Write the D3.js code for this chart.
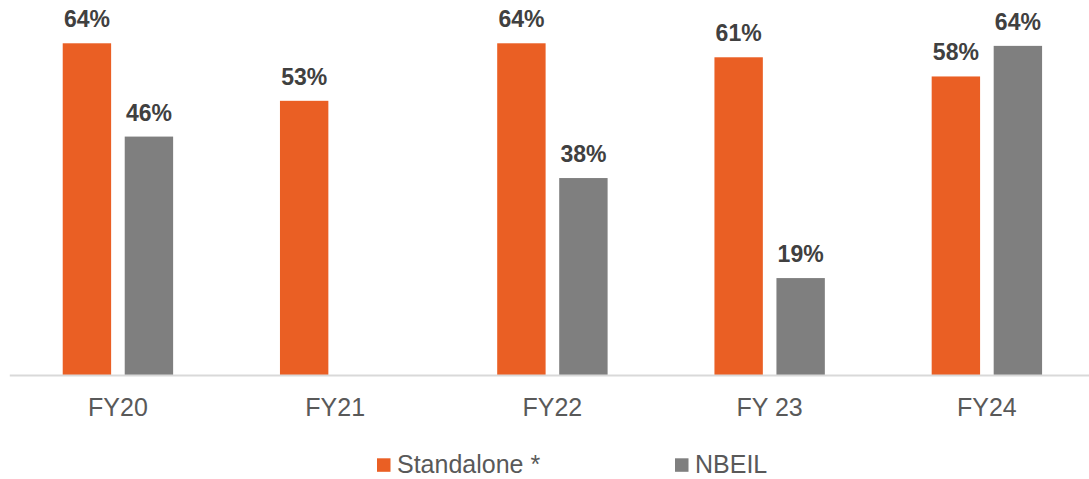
<!DOCTYPE html>
<html>
<head>
<meta charset="utf-8">
<script src="https://cdn.jsdelivr.net/npm/d3@7"></script>
<style>
  html, body { margin: 0; padding: 0; background: #fff; }
  svg { display: block; font-family: "Liberation Sans", Arial, sans-serif; }
</style>
</head>
<body>
<svg id="chart" width="1089" height="479"></svg>
<script>
const categories = ["FY20", "FY21", "FY22", "FY 23", "FY24"];
const standalone = [64, 52.9, 64, 61.3, 57.6];
const nbeil = [46, null, 38, 18.7, 63.5];
const standaloneLabels = ["64%", "53%", "64%", "61%", "58%"];
const nbeilLabels = ["46%", "", "38%", "19%", "64%"];
const seriesNames = ["Standalone *", "NBEIL"];
const colors = ["#EA5F24", "#7F7F7F"];

const svg = d3.select("#chart");
const baseline = 375;

const x = d3.scaleBand().domain(categories).range([9.3, 1095.5]).paddingInner(0).paddingOuter(0);
const y = d3.scaleLinear().domain([0, 70]).range([baseline, baseline - 70 * 5.183]);

const barW = 48.4, gap = 13.6;
const groupW = barW * 2 + gap;

const series = [
  { name: seriesNames[0], values: standalone, labels: standaloneLabels, color: colors[0], idx: 0 },
  { name: seriesNames[1], values: nbeil, labels: nbeilLabels, color: colors[1], idx: 1 }
];

function barX(cat, idx) {
  const c = x(cat) + x.bandwidth() / 2;
  return c - groupW / 2 + idx * (barW + gap);
}

series.forEach(s => {
  const data = categories.map((c, i) => ({ cat: c, v: s.values[i], label: s.labels[i] })).filter(d => d.v != null);
  svg.append("g").selectAll("rect").data(data).join("rect")
    .attr("x", d => barX(d.cat, s.idx))
    .attr("y", d => y(d.v))
    .attr("width", barW)
    .attr("height", d => y(0) - y(d.v))
    .attr("fill", s.color);
  svg.append("g").selectAll("text").data(data).join("text")
    .attr("x", d => barX(d.cat, s.idx) + barW / 2)
    .attr("y", d => y(d.v) - 16)
    .attr("text-anchor", "middle")
    .attr("font-size", 23)
    .attr("font-weight", "bold")
    .attr("fill", "#404040")
    .text(d => d.label);
});

// axis
const axis = d3.axisBottom(x).tickSize(0).tickPadding(0);
const gAxis = svg.append("g").attr("transform", `translate(0,${baseline})`).call(axis);
gAxis.select(".domain").attr("stroke", "#D9D9D9").attr("stroke-width", 2);
gAxis.selectAll(".tick text")
  .attr("font-size", 25)
  .attr("font-family", "Liberation Sans, Arial, sans-serif")
  .attr("fill", "#595959")
  .attr("dy", null)
  .attr("y", 41);

// legend
const legendX = [377, 675];
const lg = svg.append("g");
series.forEach((s, i) => {
  lg.append("rect").attr("x", legendX[i]).attr("y", 458.3).attr("width", 13.5).attr("height", 13.5).attr("fill", s.color);
  lg.append("text").attr("x", legendX[i] + 20).attr("y", 473.3)
    .attr("font-size", 25).attr("fill", "#595959").text(s.name);
});
</script>
</body>
</html>
